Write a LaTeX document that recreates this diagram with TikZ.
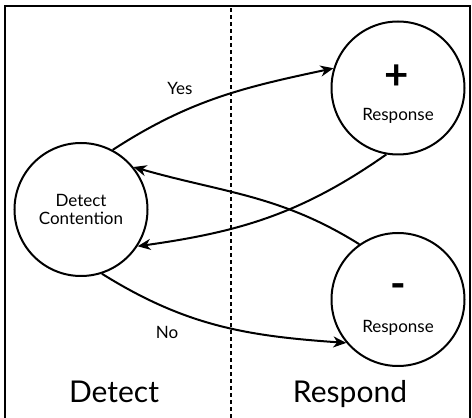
\documentclass[tikz,border=0pt]{standalone}
\usepackage{fontspec}
\setmainfont{Lato}
\usetikzlibrary{arrows.meta}
\begin{document}
\begin{tikzpicture}[x=1pt,y=1pt,
  state/.style={draw,circle,line width=2pt,minimum size=133pt,inner sep=0pt},
  conn/.style={line width=2pt,-{Stealth[length=13pt,width=11pt,inset=4pt]}},
  small/.style={font=\fontsize{17}{19}\selectfont},
  big/.style={font=\fontsize{30}{32}\selectfont},
  sign/.style={font=\fontsize{42}{42}\selectfont\bfseries}]
\useasboundingbox (0,0) rectangle (472,418);
\draw[line width=2pt] (5,-10) rectangle (470,412);
\draw[line width=1.6pt,dash pattern=on 4pt off 3pt] (231,0) -- (231,412);
\node[state] (dc) at (81,208.5) {};
\node[state] (pr) at (398,330) {};
\node[state] (nr) at (398,118.5) {};
\node[small,align=center] (dct) at (81,208.5) {Detect\\[-1pt]Contention};
\node[sign] (plus) at (397,341) {+};
\node[small] (prt) at (398,302) {Response};
\node[sign] (minus) at (398,127) {-};
\node[small] (nrt) at (398,90) {Response};
\node[small] (yes) at (180,330) {Yes};
\node[small] (no) at (167,86) {No};
\node[big,anchor=base] (ld) at (114,15) {Detect};
\node[big,anchor=base] (lr) at (350,15) {Respond};
\draw[conn] (dc.62) to[out=33,in=192] (pr.163);
\draw[conn] (pr.260) to[out=215,in=8] (dc.-33);
\draw[conn] (nr.125) to[out=148,in=-16] (dc.39);
\draw[conn] (dc.-72) to[out=-32,in=176] (nr.220);
\end{tikzpicture}
\end{document}
